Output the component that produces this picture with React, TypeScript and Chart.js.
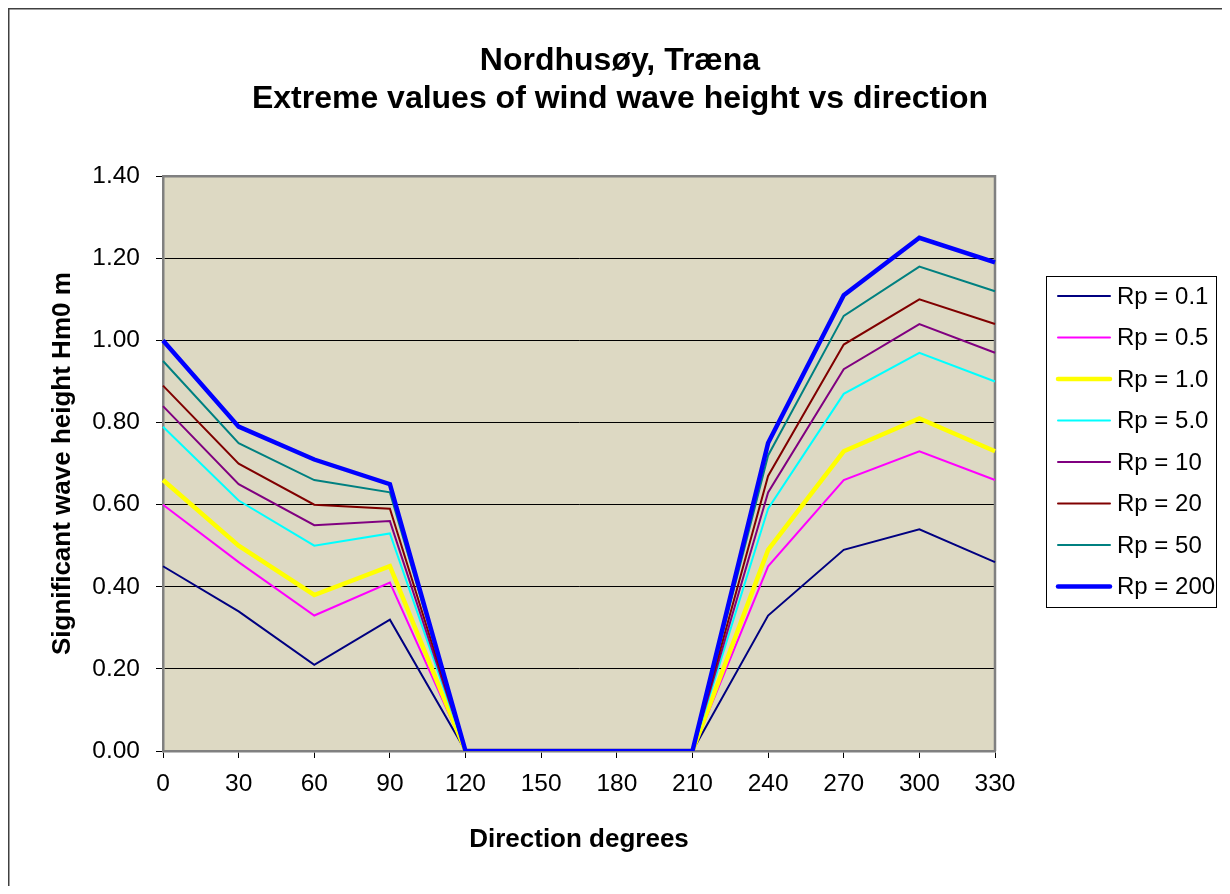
import React, { useEffect, useRef } from "react";
import { Chart, registerables, layouts } from "chart.js";

Chart.register(...registerables);

const directions = ["0", "30", "60", "90", "120", "150", "180", "210", "240", "270", "300", "330"];
const seriesNames = ["Rp = 0.1", "Rp = 0.5", "Rp = 1.0", "Rp = 5.0", "Rp = 10", "Rp = 20", "Rp = 50", "Rp = 200"];
const rp01 = [0.45, 0.34, 0.21, 0.32, 0, 0, 0, 0, 0.33, 0.49, 0.54, 0.46];
const rp05 = [0.6, 0.46, 0.33, 0.41, 0, 0, 0, 0, 0.45, 0.66, 0.73, 0.66];
const rp1 = [0.66, 0.5, 0.38, 0.45, 0, 0, 0, 0, 0.49, 0.73, 0.81, 0.73];
const rp5 = [0.79, 0.61, 0.5, 0.53, 0, 0, 0, 0, 0.59, 0.87, 0.97, 0.9];
const rp10 = [0.84, 0.65, 0.55, 0.56, 0, 0, 0, 0, 0.63, 0.93, 1.04, 0.97];
const rp20 = [0.89, 0.7, 0.6, 0.59, 0, 0, 0, 0, 0.67, 0.99, 1.1, 1.04];
const rp50 = [0.95, 0.75, 0.66, 0.63, 0, 0, 0, 0, 0.72, 1.06, 1.18, 1.12];
const rp200 = [1.0, 0.79, 0.71, 0.65, 0, 0, 0, 0, 0.75, 1.11, 1.25, 1.19];
const allSeries = [rp01, rp05, rp1, rp5, rp10, rp20, rp50, rp200];
const colors = ["#000080", "#FF00FF", "#FFFF00", "#00FFFF", "#800080", "#800000", "#008080", "#0000FF"];
const widths = [2, 2, 4.5, 2, 2, 2, 2, 4.5];

const FONT = "'Liberation Sans', Arial, Helvetica, sans-serif";

const legendSpacePlugin = {
  id: "legendSpace",
  beforeInit(chart: any) {
    const box: any = {
      position: "right",
      weight: 1000,
      fullSize: false,
      options: { stackWeight: 1 },
      left: 0,
      top: 0,
      right: 0,
      bottom: 0,
      width: 0,
      height: 0,
      isHorizontal() {
        return false;
      },
      getPadding() {
        return { top: 0, left: 0, right: 0, bottom: 0 };
      },
      update(maxWidth: number, maxHeight: number) {
        this.width = 227;
        this.height = maxHeight;
        return this.width;
      },
      draw() {},
      _layers() {
        return [{ z: 0, draw() {} }];
      },
    };
    layouts.addBox(chart, box);
  },
};

const framePlugin = {
  id: "framePlugin",
  beforeDraw(chart: any) {
    const { ctx, chartArea } = chart;
    ctx.save();
    ctx.fillStyle = "#ffffff";
    ctx.fillRect(0, 0, chart.width, chart.height);
    ctx.fillStyle = "#DDD9C3";
    ctx.fillRect(chartArea.left, chartArea.top, chartArea.right - chartArea.left, chartArea.bottom - chartArea.top);
    ctx.strokeStyle = "#404040";
    ctx.lineWidth = 1.5;
    ctx.beginPath();
    ctx.moveTo(0.75, chart.height);
    ctx.lineTo(0.75, 0.75);
    ctx.lineTo(chart.width, 0.75);
    ctx.stroke();
    ctx.restore();
  },
  beforeDatasetsDraw(chart: any) {
    const { ctx, chartArea } = chart;
    ctx.save();
    ctx.strokeStyle = "#808080";
    ctx.lineWidth = 2.5;
    ctx.beginPath();
    ctx.moveTo(chartArea.left, chartArea.top);
    ctx.lineTo(chartArea.right, chartArea.top);
    ctx.lineTo(chartArea.right, chartArea.bottom);
    ctx.stroke();
    ctx.restore();
  },
  afterDraw(chart: any) {
    const { ctx } = chart;
    const left = 1038;
    const top = 268;
    const w = 170;
    const h = 331;
    ctx.save();
    ctx.fillStyle = "#ffffff";
    ctx.fillRect(left, top, w, h);
    ctx.strokeStyle = "#000000";
    ctx.lineWidth = 1;
    ctx.strokeRect(left + 0.5, top + 0.5, w, h);
    ctx.font = `24px ${FONT}`;
    ctx.textBaseline = "middle";
    ctx.textAlign = "left";
    chart.data.datasets.forEach((ds: any, i: number) => {
      const y = 288 + i * 41.5;
      ctx.strokeStyle = ds.borderColor;
      ctx.lineWidth = ds.borderWidth;
      ctx.lineCap = "round";
      ctx.beginPath();
      ctx.moveTo(1050, y);
      ctx.lineTo(1102, y);
      ctx.stroke();
      ctx.fillStyle = "#000000";
      ctx.fillText(ds.label, 1109, y + 1);
    });
    ctx.restore();
  },
};

export default function App() {
  const ref = useRef<HTMLCanvasElement | null>(null);
  useEffect(() => {
    if (!ref.current) return;
    const datasets = allSeries.map((vals, i) => ({
      label: seriesNames[i],
      data: vals,
      borderColor: colors[i],
      backgroundColor: colors[i],
      borderWidth: widths[i],
      pointRadius: 0,
      tension: 0,
      fill: false,
      order: allSeries.length - i,
    }));
    const chart = new Chart(ref.current, {
      type: "line",
      data: { labels: directions, datasets },
      plugins: [legendSpacePlugin, framePlugin],
      options: {
        animation: false,
        responsive: false,
        devicePixelRatio: 1,
        layout: { padding: { left: 10, right: 0, top: 0, bottom: 0 } },
        plugins: {
          legend: { display: false },
          tooltip: { enabled: false },
          title: {
            display: true,
            text: ["Nordhusøy, Træna", "Extreme values of wind wave height vs direction"],
            color: "#000",
            font: { family: FONT, size: 32, weight: "bold", lineHeight: 1.16 },
            padding: { top: 35, bottom: 59 },
          },
        },
        scales: {
          x: {
            type: "category",
            offset: false,
            afterFit(scale: any) {
              scale.height = 135;
            },
            grid: { drawOnChartArea: false, drawTicks: true, tickLength: 7, tickColor: "#000", color: "#000" },
            border: { display: true, color: "#808080", width: 2.5 },
            ticks: { color: "#000", font: { family: FONT, size: 24.5 }, padding: 12, maxRotation: 0, autoSkip: false },
            title: {
              display: true,
              text: "Direction degrees",
              color: "#000",
              font: { family: FONT, size: 26, weight: "bold", lineHeight: 1.2 },
              padding: { top: 0, bottom: 31 },
            },
          },
          y: {
            min: 0,
            max: 1.4,
            afterFit(scale: any) {
              scale.width = 145;
            },
            grid: { drawOnChartArea: true, drawTicks: true, tickLength: 7, tickColor: "#000", color: "#000", lineWidth: 1 },
            border: { display: true, color: "#808080", width: 2.5 },
            ticks: {
              stepSize: 0.2,
              color: "#000",
              font: { family: FONT, size: 24.5 },
              padding: 16,
              callback: (v: any) => Number(v).toFixed(2),
            },
            title: {
              display: true,
              text: "Significant wave height Hm0 m",
              color: "#000",
              font: { family: FONT, size: 26, weight: "bold", lineHeight: 1.2 },
              padding: { top: 29, bottom: 0 },
            },
          },
        },
      },
    });
    return () => chart.destroy();
  }, []);
  return (
    <div style={{ width: 1214, height: 878 }}>
      <canvas ref={ref} width={1214} height={878} style={{ display: "block", width: 1214, height: 878 }} />
    </div>
  );
}
